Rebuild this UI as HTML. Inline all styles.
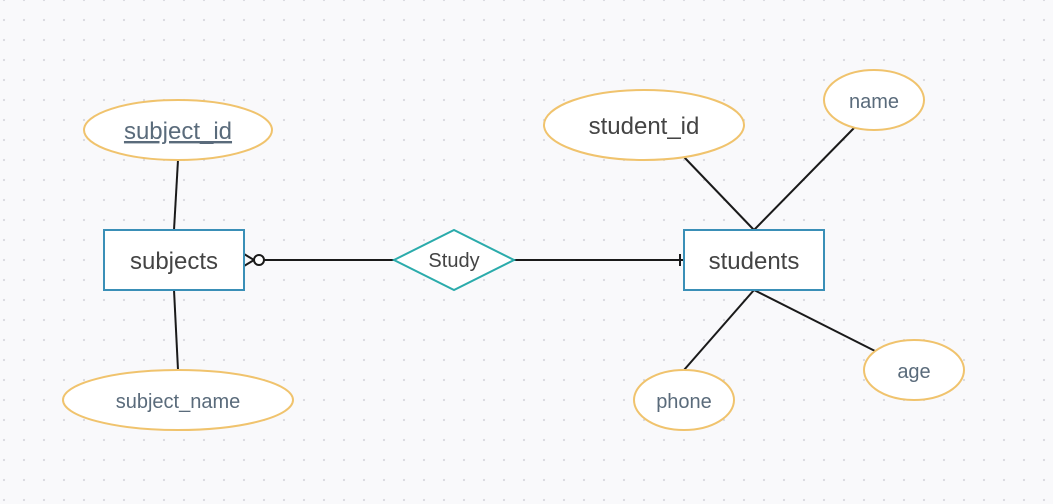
<!DOCTYPE html>
<html><head><meta charset="utf-8"><style>
html,body{margin:0;padding:0;background:#f9f9fb;}
svg{display:block;}
text{font-family:"Liberation Sans",sans-serif;}
</style></head><body>
<svg width="1053" height="504" viewBox="0 0 1053 504" xmlns="http://www.w3.org/2000/svg">
<defs>
<pattern id="dots" x="4" y="0" width="20" height="20" patternUnits="userSpaceOnUse">
<circle cx="0" cy="0" r="1.1" fill="#d8d8de"/><circle cx="20" cy="0" r="1.1" fill="#d8d8de"/>
<circle cx="0" cy="20" r="1.1" fill="#d8d8de"/><circle cx="20" cy="20" r="1.1" fill="#d8d8de"/>
</pattern>
</defs>
<rect width="1053" height="504" fill="#f9f9fb"/>
<rect width="1053" height="504" fill="url(#dots)"/>
<g stroke="#1a1a1a" stroke-width="2" fill="none">
<line x1="178" y1="160" x2="174" y2="230"/>
<line x1="174" y1="290" x2="178" y2="370"/>
<line x1="264" y1="260" x2="394" y2="260"/>
<line x1="514" y1="260" x2="684" y2="260"/>
<line x1="680" y1="254" x2="680" y2="266"/>
<line x1="754" y1="230" x2="684" y2="157"/>
<line x1="754" y1="230" x2="854" y2="128"/>
<line x1="754" y1="290" x2="684" y2="370"/>
<line x1="754" y1="290" x2="875" y2="351"/>
<circle cx="259" cy="260" r="5" fill="#fff"/>
<line x1="254" y1="260" x2="244" y2="254"/>
<line x1="254" y1="260" x2="244" y2="266"/>
</g>
<rect x="104" y="230" width="140" height="60" fill="#fff" stroke="#3a8fb7" stroke-width="2"/>
<text x="174" y="269" font-size="24" fill="#444" text-anchor="middle">subjects</text>
<rect x="684" y="230" width="140" height="60" fill="#fff" stroke="#3a8fb7" stroke-width="2"/>
<text x="754" y="269" font-size="24" fill="#444" text-anchor="middle">students</text>
<polygon points="394,260 454,230 514,260 454,290" fill="#fff" stroke="#2aabab" stroke-width="2"/>
<text x="454" y="267" font-size="20" fill="#444" text-anchor="middle">Study</text>
<g fill="#fff" stroke="#f0c36d" stroke-width="2">
<ellipse cx="178" cy="130" rx="94" ry="30"/>
<ellipse cx="178" cy="400" rx="115" ry="30"/>
<ellipse cx="644" cy="125" rx="100" ry="35"/>
<ellipse cx="874" cy="100" rx="50" ry="30"/>
<ellipse cx="914" cy="370" rx="50" ry="30"/>
<ellipse cx="684" cy="400" rx="50" ry="30"/>
</g>
<text x="178" y="139" font-size="24" fill="#5a6b7b" text-anchor="middle" text-decoration="underline">subject_id</text>
<text x="178" y="408" font-size="20" fill="#5a6b7b" text-anchor="middle">subject_name</text>
<text x="644" y="134" font-size="24" fill="#444" text-anchor="middle">student_id</text>
<text x="874" y="108" font-size="20" fill="#5a6b7b" text-anchor="middle">name</text>
<text x="914" y="378" font-size="20" fill="#5a6b7b" text-anchor="middle">age</text>
<text x="684" y="408" font-size="20" fill="#5a6b7b" text-anchor="middle">phone</text>
</svg>
</body></html>
